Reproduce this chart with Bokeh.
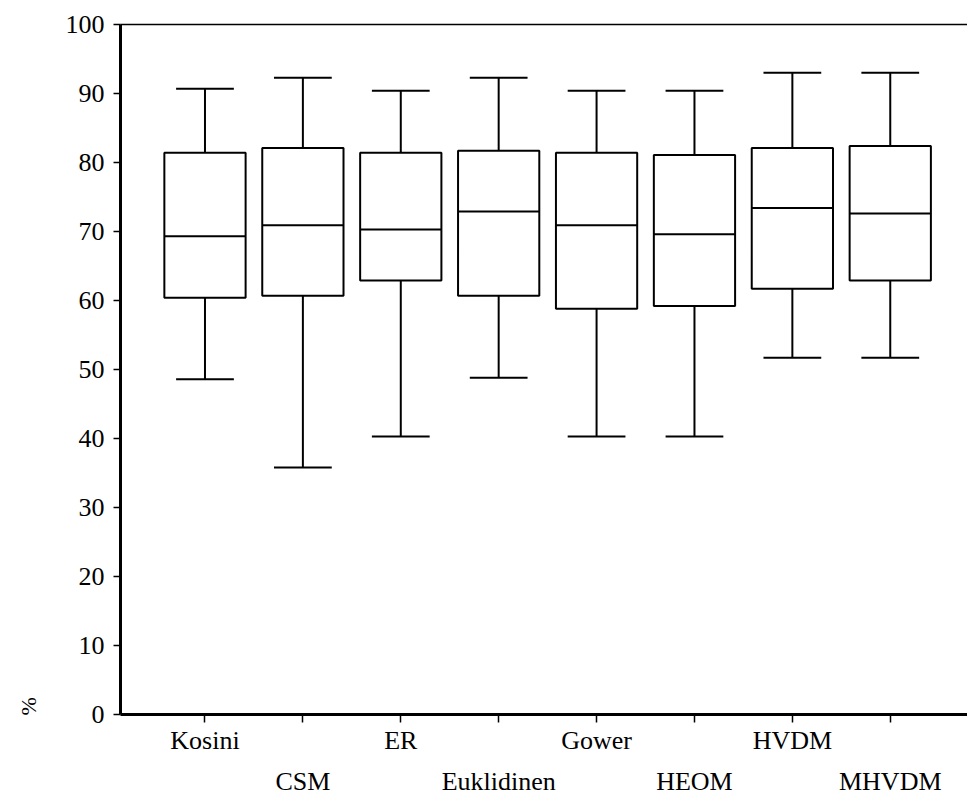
from bokeh.plotting import figure
from bokeh.models import (ColumnDataSource, FixedTicker, LinearAxis, Range1d)
from bokeh.embed import file_html
from bokeh.resources import INLINE
import math

categories = ["Kosini", "CSM", "ER", "Euklidinen", "Gower", "HEOM", "HVDM", "MHVDM"]
whisker_low = [48.6, 35.8, 40.3, 48.8, 40.3, 40.3, 51.7, 51.7]
q1 = [60.4, 60.7, 62.9, 60.7, 58.8, 59.2, 61.7, 62.9]
median = [69.3, 70.9, 70.3, 72.9, 70.9, 69.6, 73.4, 72.6]
q3 = [81.4, 82.1, 81.4, 81.7, 81.4, 81.1, 82.1, 82.4]
whisker_high = [90.7, 92.3, 90.4, 92.3, 90.4, 90.4, 93.0, 93.0]
y_ticks = [0, 10, 20, 30, 40, 50, 60, 70, 80, 90, 100]
y_unit = "%"

FONT = "Liberation Serif"
FS = "26px"

xs = [i + 1 for i in range(len(categories))]
src = ColumnDataSource(dict(x=xs, lo=whisker_low, q1=q1, med=median, q3=q3, hi=whisker_high))

box_w = 0.83
cap_w = 0.59

p = figure(width=967, height=798, output_backend="svg", toolbar_location=None,
           x_range=Range1d(0.137, 8.789), y_range=Range1d(0, 100),
           min_border_left=120, min_border_right=0, min_border_top=24, min_border_bottom=84,
           x_axis_location=None, y_axis_location=None)
p.outline_line_color = None
p.grid.visible = False
p.background_fill_color = "white"
p.border_fill_color = "white"

# whiskers
p.segment(x0="x", y0="q3", x1="x", y1="hi", source=src, line_color="black", line_width=2)
p.segment(x0="x", y0="lo", x1="x", y1="q1", source=src, line_color="black", line_width=2)
# caps
cap_src = ColumnDataSource(dict(
    x0=[x - cap_w / 2 for x in xs], x1=[x + cap_w / 2 for x in xs],
    lo=whisker_low, hi=whisker_high))
p.segment(x0="x0", y0="hi", x1="x1", y1="hi", source=cap_src, line_color="black", line_width=2)
p.segment(x0="x0", y0="lo", x1="x1", y1="lo", source=cap_src, line_color="black", line_width=2)
# boxes
p.vbar(x="x", width=box_w, bottom="q1", top="q3", source=src,
       fill_color="white", line_color="black", line_width=2)
# medians
med_src = ColumnDataSource(dict(
    x0=[x - box_w / 2 for x in xs], x1=[x + box_w / 2 for x in xs], med=median))
p.segment(x0="x0", y0="med", x1="x1", y1="med", source=med_src, line_color="black", line_width=2)

# y axis
yax = LinearAxis(ticker=FixedTicker(ticks=y_ticks))
yax.axis_line_width = 3
yax.axis_line_color = "black"
yax.major_tick_out = 7
yax.major_tick_in = 0
yax.major_tick_line_width = 1.5
yax.major_tick_line_color = "black"
yax.minor_tick_line_color = None
yax.major_label_standoff = 9
yax.major_label_text_font = FONT
yax.major_label_text_font_size = FS
yax.major_label_text_color = "black"
p.add_layout(yax, "left")

# unit label "%" near the bottom of the y axis, rotated
uax = LinearAxis(ticker=FixedTicker(ticks=[2.5]))
uax.axis_line_color = None
uax.major_tick_line_color = None
uax.minor_tick_line_color = None
uax.major_tick_out = 0
uax.major_tick_in = 0
uax.major_label_standoff = 34
uax.major_label_orientation = math.pi / 2
uax.major_label_text_font = FONT
uax.major_label_text_font_size = "22px"
uax.major_label_text_color = "black"
uax.major_label_overrides = {2.5: y_unit}
p.add_layout(uax, "left")

# x axis, first row of labels
xax = LinearAxis(ticker=FixedTicker(ticks=xs))
xax.axis_line_width = 3
xax.axis_line_color = "black"
xax.major_tick_out = 8
xax.major_tick_in = 0
xax.major_tick_line_width = 1.5
xax.major_tick_line_color = "black"
xax.minor_tick_line_color = None
xax.major_label_standoff = 3
xax.major_label_text_font = FONT
xax.major_label_text_font_size = FS
xax.major_label_text_color = "black"
xax.major_label_overrides = {x: (c if i % 2 == 0 else "") for i, (x, c) in enumerate(zip(xs, categories))}
p.add_layout(xax, "below")

# second row of labels
xax2 = LinearAxis(ticker=FixedTicker(ticks=xs[1::2]))
xax2.axis_line_color = None
xax2.major_tick_line_color = None
xax2.minor_tick_line_color = None
xax2.major_tick_out = 0
xax2.major_tick_in = 0
xax2.major_label_standoff = 9
xax2.major_label_text_font = FONT
xax2.major_label_text_font_size = FS
xax2.major_label_text_color = "black"
xax2.major_label_overrides = {x: c for x, c in zip(xs[1::2], categories[1::2])}
p.add_layout(xax2, "below")

# top frame line
top = LinearAxis(ticker=FixedTicker(ticks=[]))
top.axis_line_width = 1.5
top.axis_line_color = "black"
top.major_tick_line_color = None
top.minor_tick_line_color = None
top.major_label_text_font_size = "0px"
top.major_label_standoff = 0
top.major_tick_out = 0
p.add_layout(top, "above")

open("out.html", "w").write(file_html(p, INLINE))
